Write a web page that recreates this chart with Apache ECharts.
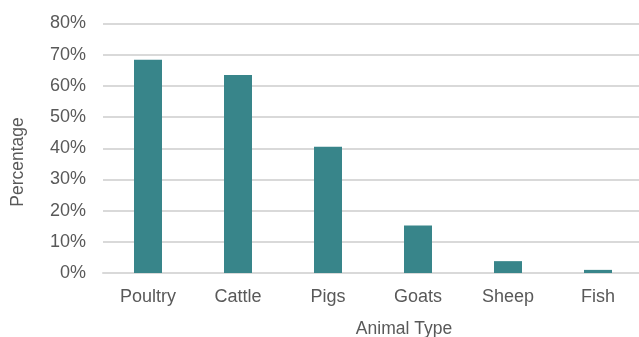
<!DOCTYPE html>
<html>
<head>
<meta charset="utf-8">
<script src="https://cdn.jsdelivr.net/npm/echarts@6/dist/echarts.min.js"></script>
<style>
  html, body { margin: 0; padding: 0; background: #ffffff; overflow: hidden; }
  /* drawing surface is a little wider than the window; the plot runs off the right edge */
  #chart { width: 643px; height: 337px; }
</style>
</head>
<body>
<div id="chart"></div>
<script>
// Share of households keeping each animal type (%)
const categories = ['Poultry', 'Cattle', 'Pigs', 'Goats', 'Sheep', 'Fish'];
const shares = [68.4, 63.5, 40.5, 15.2, 3.8, 1.0];
const yTicks = { min: 0, max: 80, interval: 10 };

const textColor = '#595959';
const font = 'Liberation Sans, Arial, sans-serif';

const chart = echarts.init(document.getElementById('chart'), null, { renderer: 'canvas' });
chart.setOption({
  animation: false,
  grid: { left: 103, right: 0, top: 23.5, bottom: 64, containLabel: false },
  xAxis: {
    type: 'category',
    data: categories,
    axisLine: { show: true, lineStyle: { color: '#d9d9d9', width: 2 } },
    axisTick: { show: false },
    axisLabel: { color: textColor, fontFamily: font, fontSize: 18, margin: 15 }
  },
  yAxis: {
    type: 'value',
    min: yTicks.min,
    max: yTicks.max,
    interval: yTicks.interval,
    axisLine: { show: false },
    axisTick: { show: false },
    splitLine: { lineStyle: { color: '#d9d9d9', width: 2 } },
    axisLabel: { color: textColor, fontFamily: font, fontSize: 18, margin: 17, formatter: '{value}%' }
  },
  series: [{
    type: 'bar',
    data: shares,
    barWidth: 28,
    itemStyle: { color: '#38858a' }
  }],
  graphic: [
    {
      type: 'text',
      x: 404, y: 329,
      style: { text: 'Animal Type', fill: textColor, font: '17.5px ' + font, textAlign: 'center', textVerticalAlign: 'middle' }
    },
    {
      type: 'text',
      x: 18, y: 162,
      rotation: Math.PI / 2,
      style: { text: 'Percentage', fill: textColor, font: '17.5px ' + font, textAlign: 'center', textVerticalAlign: 'middle' }
    }
  ]
});
</script>
</body>
</html>
